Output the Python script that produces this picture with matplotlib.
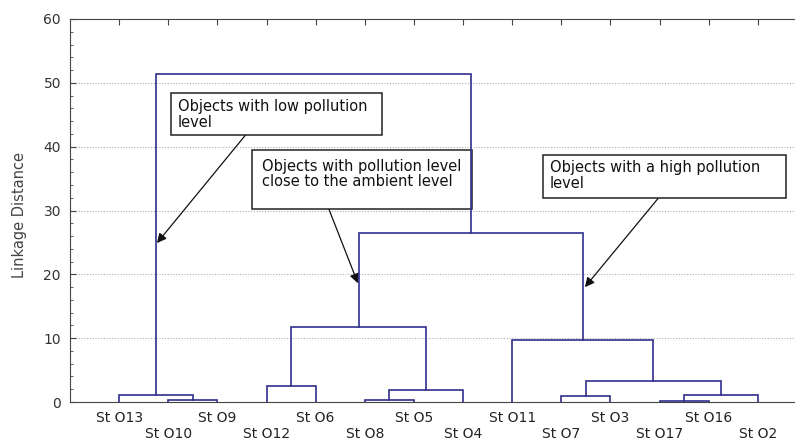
import matplotlib
matplotlib.use("Agg")
import matplotlib.pyplot as plt
from matplotlib.ticker import MultipleLocator
from matplotlib.patches import Rectangle

leaves = ["St O13", "St O10", "St O9", "St O12", "St O6", "St O8", "St O5",
          "St O4", "St O11", "St O7", "St O3", "St O17", "St O16", "St O2"]
# merges: (child a, child b, linkage distance); new cluster ids start at len(leaves)
merge_a = [1, 0, 5, 16, 3, 18, 11, 20, 9, 22, 8, 19, 15]
merge_b = [2, 14, 6, 7, 4, 17, 12, 13, 10, 21, 23, 24, 25]
merge_h = [0.3, 1.15, 0.3, 1.95, 2.5, 11.7, 0.2, 1.15, 0.95, 3.35, 9.7, 26.4, 51.4]

notes = ["Objects with low pollution\nlevel",
         "Objects with pollution level\nclose to the ambient level",
         "Objects with a high pollution\nlevel"]
note_tip = [(1.77, 24.9), (5.86, 18.6), (10.48, 18.0)]
note_tail = [(3.57, 41.8), (5.27, 30.2), (11.97, 31.9)]
# boxes: (x0, x1, y0, y1) in data units
note_box = [(2.06, 6.35, 41.8, 48.4), (3.71, 8.18, 30.2, 39.4), (9.63, 14.57, 31.9, 38.65)]
note_text_xy = [(2.20, 45.0), (3.91, 35.7), (9.77, 35.5)]

line_color = "#2f2f8c"
fig = plt.figure(figsize=(7.95, 4.42), dpi=100)
ax = fig.add_axes([70 / 795, 1 - 402 / 442, (807 - 70) / 795, (402 - 19) / 442])

n = len(leaves)
xpos = {i: i + 1 for i in range(n)}
hpos = {i: 0.0 for i in range(n)}
for k, (a, b, h) in enumerate(zip(merge_a, merge_b, merge_h)):
    xa, xb = xpos[a], xpos[b]
    ax.plot([xa, xa, xb, xb], [hpos[a], h, h, hpos[b]], color=line_color, lw=1.2,
            solid_joinstyle="miter", zorder=7)
    cid = n + k
    xpos[cid] = (xa + xb) / 2
    hpos[cid] = h

ax.set_xlim(0, 15)
ax.set_ylim(0, 60)
ax.yaxis.set_major_locator(MultipleLocator(10))
ax.yaxis.set_minor_locator(MultipleLocator(2))
ax.set_xticks(range(1, n + 1))
ax.set_xticklabels([])
ax.tick_params(axis="x", which="both", bottom=False, top=True, direction="in", length=4,
               color="#444444")
ax.tick_params(axis="y", which="major", direction="in", length=4, color="#444444",
               labelsize=10, labelcolor="#333333", pad=6.5)
ax.tick_params(axis="y", which="minor", direction="in", length=2, color="#444444")
for lvl in range(10, 60, 10):
    ax.axhline(lvl, color="#b0b0b0", lw=0.8, ls=(0, (1, 1.5)), zorder=1)

for i, lab in enumerate(leaves):
    off = -11.5 if i % 2 == 0 else -23.0
    ax.annotate(lab, xy=(i + 1, 0), xytext=(0, off), textcoords="offset points",
                ha="center", va="center", fontsize=10, color="#222222",
                annotation_clip=False)

fig.text(20 / 795, 1 - 215 / 442, "Linkage Distance", rotation=90, ha="center",
         va="center", fontsize=10.5, color="#444444")

for spine in ["left", "top", "bottom"]:
    ax.spines[spine].set_color("#444444")
ax.spines["right"].set_visible(False)

for txt, tip, tpos, tail, box in zip(notes, note_tip, note_text_xy, note_tail, note_box):
    x0, x1, y0, y1 = box
    ax.add_patch(Rectangle((x0, y0), x1 - x0, y1 - y0, fc="white", ec="#222222",
                           lw=1.1, zorder=5))
    ax.text(tpos[0], tpos[1], txt, fontsize=10.5, ha="left", va="center",
            color="#111111", linespacing=1.05, zorder=6)
    ax.annotate("", xy=tip, xytext=tail,
                arrowprops=dict(arrowstyle="-|>", color="#111111", lw=0.9,
                                mutation_scale=14, shrinkA=0, shrinkB=0), zorder=4)

fig.savefig("out.png", dpi=100)
